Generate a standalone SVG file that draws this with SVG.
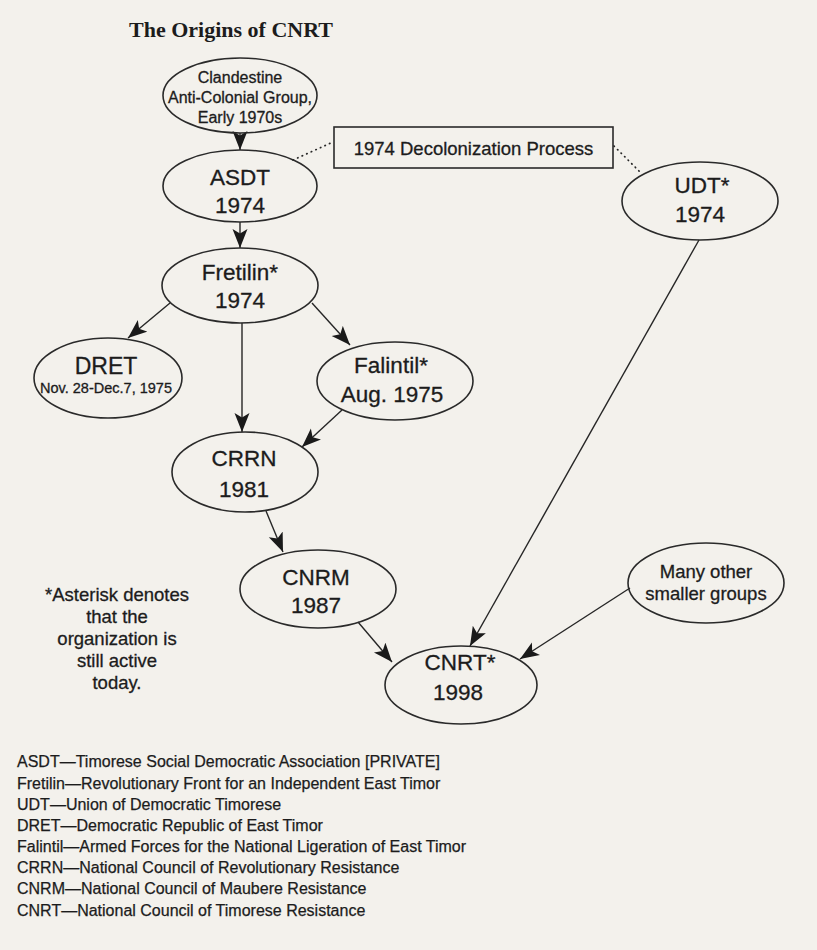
<svg xmlns="http://www.w3.org/2000/svg" width="817" height="950" viewBox="0 0 817 950">
<defs>
<marker id="ah" markerUnits="userSpaceOnUse" markerWidth="22" markerHeight="18" viewBox="0 0 22 18" refX="19" refY="8" orient="auto">
<path d="M0,0.5 L19,8 L0,15.5 L4.5,8 Z" fill="#1a1a1a"/>
</marker>
<style>
.n{fill:none;stroke:#2a2a2a;stroke-width:1.6}
.t{font-family:"Liberation Sans",Arial,sans-serif;fill:#1c1c1c;text-anchor:middle;stroke:#1c1c1c;stroke-width:0.3}
.big{font-size:22.5px}
.c{stroke:#262626;stroke-width:1.4;fill:none;marker-end:url(#ah)}
.d{stroke:#262626;stroke-width:1.7;fill:none;stroke-dasharray:0.5 4.5;stroke-linecap:round}
.lg{font-family:"Liberation Sans",Arial,sans-serif;fill:#1c1c1c;font-size:16px;stroke:#1c1c1c;stroke-width:0.25}
</style>
</defs>
<rect x="0" y="0" width="817" height="950" fill="#f3f1ec"/>
<text x="129" y="37" font-family="Liberation Serif,Times New Roman,serif" font-weight="bold" font-size="22" fill="#1c1c1c">The Origins of CNRT</text>

<g id="connectors">
<path class="c" d="M240,133 L240,150"/>
<path class="c" d="M240,222 L240,248"/>
<path class="c" d="M170,303 L128,338"/>
<path class="c" d="M312,303 L350,345"/>
<path class="c" d="M242,323 L242,432"/>
<path class="c" d="M342,410 L302,447"/>
<path class="c" d="M266,511 L283,552"/>
<path class="c" d="M358,622 L392,662"/>
<path class="c" d="M699,240 L470,646"/>
<path class="c" d="M630,588 L520,659"/>
<path class="d" d="M293,160 L333,142"/>
<path class="d" d="M614,146 L640,172"/>
</g>

<g id="clandestine">
<ellipse class="n" cx="240" cy="95.5" rx="77" ry="37.5"/>
<text class="t" x="240" y="83" font-size="16">Clandestine</text>
<text class="t" x="240" y="103" font-size="16">Anti-Colonial Group,</text>
<text class="t" x="240" y="123" font-size="16">Early 1970s</text>
</g>

<g id="asdt">
<ellipse class="n" cx="240" cy="186" rx="77" ry="36"/>
<text class="t big" x="240" y="185">ASDT</text>
<text class="t big" x="240" y="213">1974</text>
</g>

<g id="decolonization">
<rect x="334" y="127" width="279" height="41" fill="none" stroke="#2a2a2a" stroke-width="1.6"/>
<text class="t" x="473.5" y="155" font-size="18.5">1974 Decolonization Process</text>
</g>

<g id="udt">
<ellipse class="n" cx="700" cy="201" rx="78" ry="39"/>
<text class="t big" x="702" y="193">UDT*</text>
<text class="t big" x="700" y="222">1974</text>
</g>

<g id="fretilin">
<ellipse class="n" cx="240" cy="285.5" rx="78" ry="37.5"/>
<text class="t big" x="240" y="280">Fretilin*</text>
<text class="t big" x="240" y="308">1974</text>
</g>

<g id="dret">
<ellipse class="n" cx="108" cy="378" rx="74" ry="40"/>
<text class="t" x="106" y="374" font-size="23">DRET</text>
<text class="t" x="106" y="393" font-size="14.5">Nov. 28-Dec.7, 1975</text>
</g>

<g id="falintil">
<ellipse class="n" cx="395" cy="381" rx="78" ry="39"/>
<text class="t big" x="391" y="373">Falintil*</text>
<text class="t big" x="392" y="402">Aug. 1975</text>
</g>

<g id="crrn">
<ellipse class="n" cx="245" cy="472" rx="73" ry="40"/>
<text class="t big" x="244" y="466">CRRN</text>
<text class="t big" x="244" y="497">1981</text>
</g>

<g id="cnrm">
<ellipse class="n" cx="318" cy="589" rx="78" ry="39"/>
<text class="t big" x="316" y="585">CNRM</text>
<text class="t big" x="316" y="613">1987</text>
</g>

<g id="many">
<ellipse class="n" cx="706" cy="583" rx="78" ry="40"/>
<text class="t" x="706" y="578" font-size="18.5">Many other</text>
<text class="t" x="706" y="600" font-size="18.5">smaller groups</text>
</g>

<g id="cnrt">
<ellipse class="n" cx="461" cy="685" rx="76" ry="39"/>
<text class="t big" x="460" y="670">CNRT*</text>
<text class="t big" x="458" y="700">1998</text>
</g>

<g id="note">
<text class="t" x="117" y="601" font-size="18.5">*Asterisk denotes</text>
<text class="t" x="117" y="623" font-size="18.5">that the</text>
<text class="t" x="117" y="645" font-size="18.5">organization is</text>
<text class="t" x="117" y="667" font-size="18.5">still active</text>
<text class="t" x="117" y="689" font-size="18.5">today.</text>
</g>

<g id="legend">
<text class="lg" x="17" y="767">ASDT—Timorese Social Democratic Association [PRIVATE]</text>
<text class="lg" x="17" y="789">Fretilin—Revolutionary Front for an Independent East Timor</text>
<text class="lg" x="17" y="810">UDT—Union of Democratic Timorese</text>
<text class="lg" x="17" y="831">DRET—Democratic Republic of East Timor</text>
<text class="lg" x="17" y="852">Falintil—Armed Forces for the National Ligeration of East Timor</text>
<text class="lg" x="17" y="873">CRRN—National Council of Revolutionary Resistance</text>
<text class="lg" x="17" y="894">CNRM—National Council of Maubere Resistance</text>
<text class="lg" x="17" y="916">CNRT—National Council of Timorese Resistance</text>
</g>
</svg>
